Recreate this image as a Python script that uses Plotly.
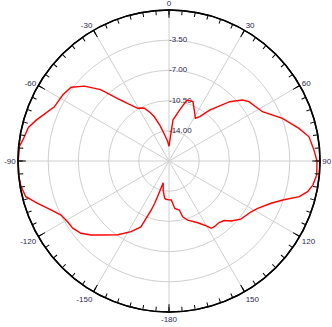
import plotly.graph_objects as go

# angle (deg, clockwise from top) and level (dB)
theta = [-180, -175.5, -173.4, -169, -165, -163, -161.3, -160, -156.9, -151.7, -145.3,
         -137.4, -133.5, -129.4, -124.9, -120.9, -116.6, -112.5, -107.9, -104, -99.8,
         -96, -90.3, -84.5, -81.7, -76.6, -72.9, -70.9, -64.7, -58.2, -53, -48.5,
         -43.8, -39.3, -35, -30.7, -27, -25.1, -21, -18.4, -14, -9.4, -4, 0,
         3.7, 5.6, 11.8, 16.4, 22, 26.3, 31.7, 34.7, 38.6, 45.7, 50.3, 53.4, 62.2,
         69.4, 75.9, 80.2, 85.7, 90, 95.4, 99.5, 102.5, 105.3, 108.9, 112.5, 118.1,
         121.7, 129, 134, 137.2, 140.8, 145.4, 148, 149.5, 155, 162.4, 166.2, 168.1,
         173, 176.6, 180]
level = [-13.0, -13.05, -13.15, -14.0, -14.9, -13.8, -12.3, -11.4, -9.2, -8.2, -7.1,
         -5.85, -5.05, -4.3, -3.9, -3.8, -3.5, -2.7, -1.5, -0.4, -0.1,
         0.0, -0.03, -0.07, -0.4, -0.75, -1.4, -1.8, -2.8, -3.0, -3.3, -4.4,
         -6.05, -8.2, -9.5, -10.4, -10.6, -10.75, -11.5, -12.1, -13.3, -14.45, -15.2, -15.8,
         -14.5, -12.7, -11.45, -10.13, -10.08, -10.9, -11.68, -11.25, -9.95, -7.66, -6.44, -5.96, -5.26,
         -3.45, -1.97, -1.03, -0.65, -0.35, -0.3, -0.6, -1.05, -1.85, -3.55, -4.7, -5.85,
         -6.3, -6.8, -7.5, -8.1, -8.3, -8.25, -8.3, -8.7, -9.6, -10.3, -10.85, -11.7,
         -11.95, -12.97, -13.0]

major_vals = list(range(0, 360, 30))
major_text = ["0", "30", "60", "90", "120", "150", "-180", "-150", "-120", "-90", "-60", "-30"]
minor_vals = list(range(0, 360, 5))
r_ticks = [-14, -10.5, -7, -3.5]
r_text = ["-14.00", "-10.50", "-7.00", "-3.50"]
r_range = [-17.5, 0]

font = dict(family="Liberation Sans, Arial, sans-serif", size=8, color="#2a2a50")
grid = "#cfcfcf"

fig = go.Figure()
# radial tick labels as text, placed just right of the 0-degree spoke
fig.add_trace(go.Scatterpolar(r=r_ticks, theta=[0] * len(r_ticks), mode="text",
                              text=r_text, textposition="middle right",
                              textfont=font, subplot="polar",
                              showlegend=False, hoverinfo="skip"))
fig.add_trace(go.Scatterpolar(r=level, theta=theta, mode="lines",
                              line=dict(color="#ff0000", width=1.4),
                              subplot="polar2", showlegend=False))

dom = dict(x=[0, 1], y=[0, 1])
fig.update_layout(
    width=332, height=327,
    margin=dict(l=18, r=12, t=10, b=15),
    paper_bgcolor="white",
    font=font,
    polar=dict(
        domain=dom, bgcolor="white",
        angularaxis=dict(rotation=90, direction="clockwise",
                         tickmode="array", tickvals=major_vals, ticktext=major_text,
                         ticks="inside", ticklen=7, tickcolor="black", tickwidth=1,
                         showline=True, linecolor="black", linewidth=1.5,
                         showgrid=True, gridcolor=grid, gridwidth=1,
                         tickfont=font),
        radialaxis=dict(range=r_range, tickmode="array", tickvals=r_ticks,
                        angle=90, showticklabels=False,
                        showline=False, ticks="", showgrid=True, gridcolor=grid,
                        gridwidth=1),
    ),
    polar2=dict(
        domain=dom, bgcolor="rgba(0,0,0,0)",
        angularaxis=dict(rotation=90, direction="clockwise",
                         tickmode="array", tickvals=minor_vals,
                         ticks="inside", ticklen=4, tickcolor="black", tickwidth=1,
                         showticklabels=False, showline=True, linecolor="black",
                         linewidth=1.5, showgrid=False),
        radialaxis=dict(range=r_range, visible=False, showgrid=False),
    ),
)

fig.write_html("out.html", config={"displayModeBar": False},
               post_script="document.body.style.margin='0';document.body.style.overflow='hidden';")
